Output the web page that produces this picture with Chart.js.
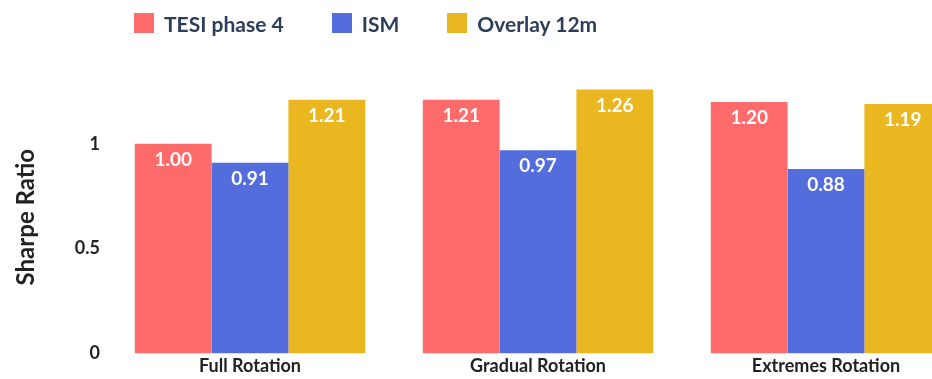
<!DOCTYPE html>
<html>
<head>
    <title>Sharpe Ratio</title>
    <style>
        body {
            margin: 0;
            background: #ffffff;
            overflow: hidden;
        }
        .frame {
            position: relative;
            width: 932px;
            height: 379px;
            overflow: hidden;
        }
        #chart {
            position: absolute;
            left: 0;
            top: 0;
        }
        .legend {
            position: absolute;
            left: 134px;
            top: 13px;
            display: flex;
            font-family: Lato, "Noto Sans", sans-serif;
            font-weight: bold;
            font-size: 21px;
            color: #2d3d5c;
        }
        .legend-item {
            display: flex;
            align-items: center;
            margin-right: 48px;
            height: 20px;
        }
        .legend-box {
            width: 20px;
            height: 20px;
            margin-right: 10px;
        }
    </style>
</head>
<body>
    <div class="frame">
        <canvas id="chart" width="978" height="379"></canvas>
        <div class="legend" id="legend"></div>
    </div>

    <script src="https://cdn.jsdelivr.net/npm/chart.js"></script>
    <script>
        const categories = ['Full Rotation', 'Gradual Rotation', 'Extremes Rotation'];
        const seriesNames = ['TESI phase 4', 'ISM', 'Overlay 12m'];
        const tesiValues = [1.00, 1.21, 1.20];
        const ismValues = [0.91, 0.97, 0.88];
        const overlayValues = [1.21, 1.26, 1.19];
        const yTicks = [0, 0.5, 1];
        const colors = ['#ff6b6b', '#536ddd', '#eab720'];

        const FONT = 'Lato, "Noto Sans", sans-serif';

        // white value labels inside the top of each bar
        const valueLabels = {
            id: 'valueLabels',
            afterDatasetsDraw(chart) {
                const ctx = chart.ctx;
                ctx.save();
                ctx.fillStyle = '#ffffff';
                ctx.font = 'bold 19px ' + FONT;
                ctx.textAlign = 'center';
                ctx.textBaseline = 'middle';
                chart.data.datasets.forEach((ds, i) => {
                    chart.getDatasetMeta(i).data.forEach((bar, j) => {
                        ctx.fillText(ds.data[j].toFixed(2), bar.x, bar.y + 16);
                    });
                });
                ctx.restore();
            }
        };

        const allValues = [tesiValues, ismValues, overlayValues];

        new Chart(document.getElementById('chart'), {
            type: 'bar',
            data: {
                labels: categories,
                datasets: seriesNames.map((name, i) => ({
                    label: name,
                    data: allValues[i],
                    backgroundColor: colors[i],
                    borderWidth: 0,
                    categoryPercentage: 0.8,
                    barPercentage: 1.0
                }))
            },
            options: {
                responsive: false,
                animation: false,
                layout: { padding: { top: 81, right: 8, left: 0, bottom: 0 } },
                plugins: {
                    legend: { display: false },
                    tooltip: { enabled: false }
                },
                scales: {
                    x: {
                        grid: { display: false, drawTicks: false },
                        border: { display: false },
                        ticks: {
                            color: '#222222',
                            padding: 2,
                            font: { family: FONT, size: 18, weight: 'bold' }
                        }
                    },
                    y: {
                        min: 0,
                        max: 1.3,
                        grid: { display: false, drawTicks: false },
                        border: { display: false },
                        afterBuildTicks: axis => {
                            axis.ticks = yTicks.map(v => ({ value: v }));
                        },
                        afterFit: axis => { axis.width = 106; },
                        ticks: {
                            color: '#222222',
                            padding: 6,
                            font: { family: FONT, size: 18, weight: 'bold' },
                            callback: v => String(v)
                        },
                        title: {
                            display: true,
                            text: 'Sharpe Ratio',
                            color: '#222222',
                            padding: { top: 12, bottom: 4 },
                            font: { family: FONT, size: 24, weight: 'bold' }
                        }
                    }
                }
            },
            plugins: [valueLabels]
        });

        // legend built from the same names and colours
        const legend = document.getElementById('legend');
        seriesNames.forEach((name, i) => {
            const item = document.createElement('div');
            item.className = 'legend-item';
            const box = document.createElement('span');
            box.className = 'legend-box';
            box.style.background = colors[i];
            const text = document.createElement('span');
            text.textContent = name;
            item.appendChild(box);
            item.appendChild(text);
            legend.appendChild(item);
        });
    </script>
</body>
</html>
